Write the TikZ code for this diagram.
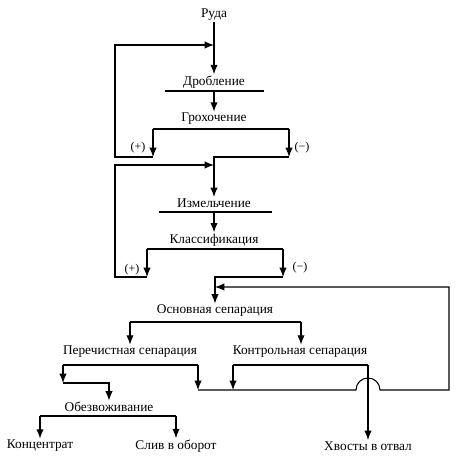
\documentclass[tikz,border=0pt]{standalone}
\usepackage{fontspec}
\setmainfont{Liberation Serif}
\usetikzlibrary{arrows.meta,calc}

\begin{document}
\begin{tikzpicture}[x=0.75pt,y=0.75pt,
  proc/.style={inner sep=1pt,font=\fontsize{10}{12}\selectfont},
  sign/.style={inner sep=0pt,font=\fontsize{9}{11}\selectfont},
  barline/.style={line width=2.2pt},
  flow/.style={line width=0.8pt,-{Latex[length=7pt,width=5.5pt]}},
  plain/.style={line width=0.8pt}]
 \useasboundingbox (0,0) rectangle (474,460);
 % stages
 \node[proc] (ruda)   at (214,445) {Руда};
 \node[proc] (drob)   at (214,378) {Дробление};
 \node[proc] (groh)   at (214,341) {Грохочение};
 \node[proc] (izm)    at (214,257) {Измельчение};
 \node[proc] (klass)  at (214,220) {Классификация};
 \node[proc] (osn)    at (215,149) {Основная сепарация};
 \node[proc] (perech) at (130,108) {Перечистная сепарация};
 \node[proc] (kontr)  at (300,108) {Контрольная сепарация};
 \node[proc] (obezv)  at (109,53)  {Обезвоживание};
 \node[proc] (konc)   at (40,14)   {Концентрат};
 \node[proc] (sliv)   at (176,14)  {Слив в оборот};
 \node[proc] (hvost)  at (368,14)  {Хвосты в отвал};
 \node[sign] (plusA)  at (138,312) {(+)};
 \node[sign] (minusA) at (302,312) {(−)};
 \node[sign] (plusB)  at (132,190) {(+)};
 \node[sign] (minusB) at (300,192) {(−)};
 % bars under the stages
 \foreach \n/\l/\r/\y in {drob/165/264/369, groh/153/289/331, izm/159/272/248,
   klass/147/283/211, osn/130/301/138, perech/63/198/95, kontr/233/368/95,
   obezv/40/176/44}{
   \coordinate (\n-l) at (\l,\y);
   \coordinate (\n-r) at (\r,\y);
   \draw[barline] (\n-l) -- (\n-r);
 }
 % turning points of the loops
 \coordinate (pA) at (153,303);
 \coordinate (mA) at (289,303);
 \coordinate (cA) at (115,303);
 \coordinate (inA) at (214,415);
 \coordinate (pB) at (147,183);
 \coordinate (mB) at (283,183);
 \coordinate (cB) at (115,183);
 \coordinate (inB) at (214,295);
 \coordinate (inC) at (215,173);
 \coordinate (cC) at (449,70);
 \coordinate (low) at (198,70);
 \coordinate (q) at (63,77);
 % crushing and screening
 \draw[flow] (ruda) -- (drob);
 \draw[flow] (groh |- drob-l) -- (groh);
 \draw[flow] (groh-l) -- (pA);
 \draw[flow] (groh-r) -- (mA);
 \draw[flow] (pA) -- (cA) |- (inA);
 \draw[flow] (mA) -| (izm);
 % grinding and classifying
 \draw[flow] (klass |- izm-l) -- (klass);
 \draw[flow] (klass-l) -- (pB);
 \draw[flow] (klass-r) -- (mB);
 \draw[flow] (pB) -- (cB) |- (inB);
 \draw[flow] (mB) -| (osn);
 % separation
 \draw[flow] (osn-l) -- (perech);
 \draw[flow] (osn-r) -- (osn-r |- kontr.north);
 \draw[flow] (perech-l) -- (q);
 \draw[flow] (q) -| (obezv);
 \draw[flow] (perech-r) -- (low);
 \draw[flow] (kontr-l) -- (kontr-l |- low);
 \draw[flow] (kontr-r) -- (hvost);
 \draw[flow] (low) -- ([xshift=-9pt]kontr-r |- low)
   arc[start angle=180,end angle=0,radius=12] -- (cC) |- (inC);
 % dewatering
 \draw[flow] (obezv-l) -- (konc);
 \draw[flow] (obezv-r) -- (sliv);
\end{tikzpicture}
\end{document}
